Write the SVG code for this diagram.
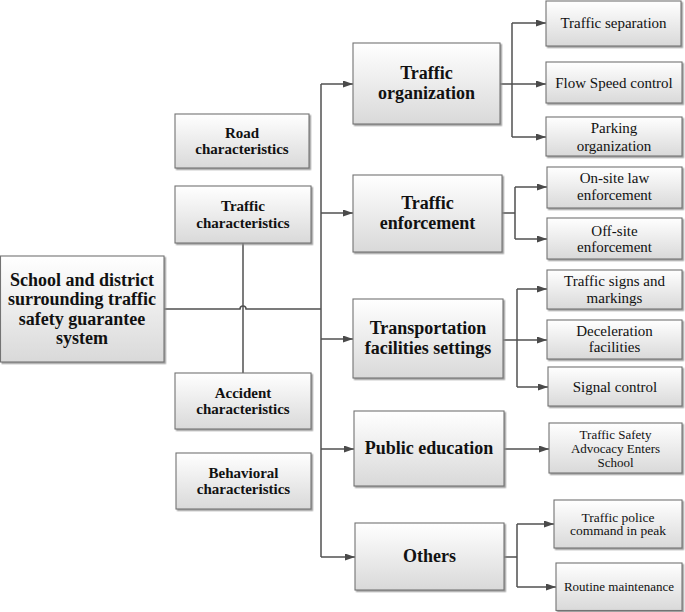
<svg xmlns="http://www.w3.org/2000/svg" width="685" height="612" viewBox="0 0 685 612">
<defs>
<linearGradient id="g" x1="0" y1="0" x2="0" y2="1">
<stop offset="0" stop-color="#ffffff"/>
<stop offset="1" stop-color="#d9d9d9"/>
</linearGradient>
<filter id="sh" x="-5%" y="-5%" width="115%" height="120%">
<feDropShadow dx="1.5" dy="1.5" stdDeviation="0.6" flood-color="#8a8a8a" flood-opacity="0.8"/>
</filter>
<marker id="ar" markerUnits="userSpaceOnUse" markerWidth="10" markerHeight="8" refX="10" refY="3.5" orient="auto">
<path d="M0,0 L10,3.5 L0,7 z" fill="#4a4a4a"/>
</marker>
<style>
rect{fill:url(#g);stroke:#737373;stroke-width:1.1;filter:url(#sh)}
text{font-family:"Liberation Serif","Times New Roman",serif;text-anchor:middle;fill:#111}
.b{font-weight:bold}
.m{font-size:18px}
.l{font-size:15px}
.s{font-size:15px}
.t{font-size:13px}
.u{font-size:13.5px}
.c path,.c line{stroke:#505050;stroke-width:1.5;fill:none}
.c .a{marker-end:url(#ar)}
</style>
</defs>
<g class="c" id="connectors">
<path d="M164,309 H240 A3,3 0 0 1 246,309 H321"/>
<path d="M243,243 V373"/>
<path d="M321,84 V557"/>
<path class="a" d="M321,84 H353"/>
<path class="a" d="M321,213 H353"/>
<path class="a" d="M321,339 H353"/>
<path class="a" d="M321,449 H354"/>
<path class="a" d="M321,557 H355"/>
<path d="M512,23 V137"/>
<path class="a" d="M512,23 H546"/>
<path class="a" d="M500,84 H546"/>
<path class="a" d="M512,137 H546"/>
<path d="M502,213 H515 M515,187 V239"/>
<path class="a" d="M515,187 H547"/>
<path class="a" d="M515,239 H547"/>
<path d="M517,289 V387"/>
<path class="a" d="M517,289 H547"/>
<path class="a" d="M503,340 H547"/>
<path class="a" d="M517,387 H548"/>
<path class="a" d="M504,449 H549"/>
<path d="M504,557 H517 M517,524 V587"/>
<path class="a" d="M517,524 H554"/>
<path class="a" d="M517,587 H556"/>
</g>
<g id="main"><rect x="0.5" y="256" width="163.5" height="106"/>
<text class="b m" x="82"><tspan x="82" y="285.5">School and district</tspan><tspan x="82" y="305">surrounding traffic</tspan><tspan x="82" y="324.5">safety guarantee</tspan><tspan x="82" y="344">system</tspan></text></g>
<g id="road"><rect x="175" y="114" width="134" height="54"/>
<text class="b l"><tspan x="242" y="137.5">Road</tspan><tspan x="242" y="154">characteristics</tspan></text></g>
<g id="trafficchar"><rect x="175" y="186" width="136" height="57"/>
<text class="b l"><tspan x="243" y="211">Traffic</tspan><tspan x="243" y="227.5">characteristics</tspan></text></g>
<g id="accident"><rect x="175" y="373" width="136" height="56"/>
<text class="b l"><tspan x="243" y="397.5">Accident</tspan><tspan x="243" y="414">characteristics</tspan></text></g>
<g id="behavioral"><rect x="176" y="453" width="135" height="56"/>
<text class="b l"><tspan x="243.5" y="477.5">Behavioral</tspan><tspan x="243.5" y="494">characteristics</tspan></text></g>
<g id="org"><rect x="353" y="43" width="147" height="81"/>
<text class="b m"><tspan x="426.5" y="79.3">Traffic</tspan><tspan x="426.5" y="99.3">organization</tspan></text></g>
<g id="enf"><rect x="353" y="175" width="149" height="77"/>
<text class="b m"><tspan x="427.5" y="209.3">Traffic</tspan><tspan x="427.5" y="229.3">enforcement</tspan></text></g>
<g id="fac"><rect x="353" y="299" width="150" height="79"/>
<text class="b m"><tspan x="428" y="334.3">Transportation</tspan><tspan x="428" y="354.3">facilities settings</tspan></text></g>
<g id="edu"><rect x="354" y="411" width="150" height="75"/>
<text class="b m" x="429" y="454.3">Public education</text></g>
<g id="others"><rect x="355" y="523" width="149" height="67"/>
<text class="b m" x="429.5" y="562.3">Others</text></g>
<g id="sep"><rect x="546" y="1" width="135" height="45"/>
<text class="s" x="613.5" y="28.3">Traffic separation</text></g>
<g id="flow"><rect x="546" y="62" width="136" height="41"/>
<text class="s" x="614" y="87.5">Flow Speed control</text></g>
<g id="park"><rect x="546" y="117" width="136" height="39"/>
<text class="s"><tspan x="614" y="133">Parking</tspan><tspan x="614" y="150.5">organization</tspan></text></g>
<g id="onsite"><rect x="547" y="167" width="135" height="41"/>
<text class="s"><tspan x="614.5" y="183">On-site law</tspan><tspan x="614.5" y="200">enforcement</tspan></text></g>
<g id="offsite"><rect x="547" y="218" width="135" height="41"/>
<text class="s"><tspan x="614.5" y="235.5">Off-site</tspan><tspan x="614.5" y="251.5">enforcement</tspan></text></g>
<g id="signs"><rect x="547" y="270" width="135" height="39"/>
<text class="s"><tspan x="614.5" y="285.8">Traffic signs and</tspan><tspan x="614.5" y="302.5">markings</tspan></text></g>
<g id="decel"><rect x="547" y="320" width="135" height="39"/>
<text class="s"><tspan x="614.5" y="335.5">Deceleration</tspan><tspan x="614.5" y="352">facilities</tspan></text></g>
<g id="signal"><rect x="548" y="367" width="134" height="39"/>
<text class="s" x="615" y="391.5">Signal control</text></g>
<g id="advocacy"><rect x="549" y="423" width="133" height="50"/>
<text class="t"><tspan x="615.5" y="438.5">Traffic Safety</tspan><tspan x="615.5" y="453.2">Advocacy Enters</tspan><tspan x="615.5" y="467">School</tspan></text></g>
<g id="police"><rect x="554" y="500" width="128" height="48"/>
<text class="u"><tspan x="618" y="521.6">Traffic police</tspan><tspan x="618" y="535.3">command in peak</tspan></text></g>
<g id="maint"><rect x="556" y="563" width="126" height="47.5"/>
<text class="t" x="619" y="591">Routine maintenance</text></g>
</svg>
